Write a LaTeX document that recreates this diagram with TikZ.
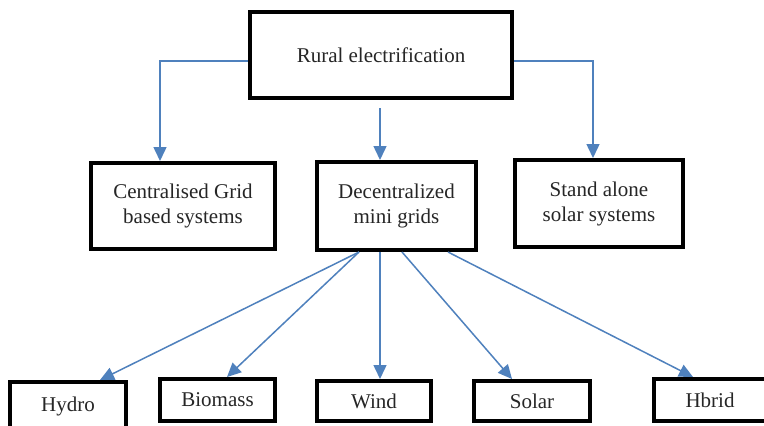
\documentclass[tikz,border=0pt]{standalone}
\usepackage{fontspec}
\setmainfont{Liberation Serif}
\usepackage{tikz}
\usetikzlibrary{arrows.meta}
\definecolor{wordblue}{RGB}{79,129,189}
\definecolor{inkgrey}{RGB}{38,38,38}

\begin{document}
\begin{tikzpicture}[x = 1pt, y = -1pt,
	blk/.style = {draw = black, line width = 4pt, fill = white, align = center,
		text = inkgrey, inner sep = 0pt, font = \fontsize{21}{25}\selectfont},
	link/.style = {draw = wordblue, line width = 1.5pt,
		-{Triangle[length = 14pt, width = 13pt]}}]
\clip (0,0) rectangle (764,426);
\fill[white] (0,0) rectangle (764,426);

\node [blk, minimum width = 262pt, minimum height = 86pt] (rural) at (381,55) {Rural electrification};

\node [blk, minimum width = 184pt, minimum height = 86pt] (central) at (183,206) {Centralised Grid\\based systems};
\node [blk, minimum width = 159pt, minimum height = 88pt] (mini) at (396.5,206) {Decentralized\\mini grids};
\node [blk, minimum width = 168pt, minimum height = 87pt] (alone) at (599,203.5) {Stand alone\\solar systems};

\node [blk, minimum width = 116pt, minimum height = 48pt] (hydro) at (68,406) {Hydro};
\node [blk, minimum width = 115pt, minimum height = 42pt] (biomass) at (217.5,400) {Biomass};
\node [blk, minimum width = 114pt, minimum height = 40pt] (wind) at (374,401) {Wind};
\node [blk, minimum width = 116pt, minimum height = 40pt] (solar) at (532,401) {Solar};
\node [blk, minimum width = 112pt, minimum height = 42pt] (hbrid) at (710,400) {Hbrid};

\coordinate (gap) at (380,108);
\draw[link] ([yshift = -6pt]rural.west) -| ([xshift = -23pt]central.north);
\draw[link] ([yshift = -6pt]rural.east) -| ([xshift = -6pt]alone.north);
\draw[link] (gap) -- (gap |- mini.north);

\foreach \from/\to/\tip in {-37.5/hydro/32, -37.5/biomass/9.5, -16.5/wind/6, 5.5/solar/-20, 51.5/hbrid/-17}
	{\draw[link] ([xshift = \from pt]mini.south) -- ([xshift = \tip pt]\to.north);}
\end{tikzpicture}
\end{document}
